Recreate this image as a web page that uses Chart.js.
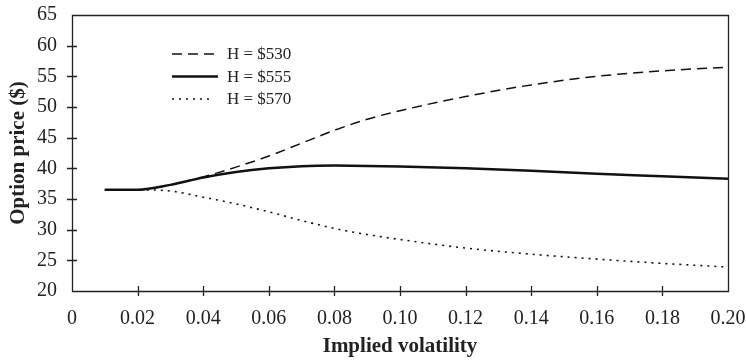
<!DOCTYPE html>
<html>
<head>
<meta charset="utf-8">
<script src="https://cdn.jsdelivr.net/npm/chart.js@4/dist/chart.umd.min.js"></script>
<style>
html,body{margin:0;padding:0;background:#fff;}
#wrap{width:746px;height:361px;position:relative;}
</style>
</head>
<body>
<div id="wrap"><canvas id="c" width="746" height="361"></canvas></div>
<script>
const volatility = [0.01, 0.02, 0.03, 0.04, 0.05, 0.06, 0.07, 0.08, 0.09, 0.10, 0.12, 0.14, 0.16, 0.18, 0.20];
const priceH530 = [36.5, 36.5, 37.3, 38.6, 40.2, 42.0, 44.1, 46.2, 48.0, 49.4, 51.7, 53.6, 55.0, 55.9, 56.5];
const priceH555 = [36.5, 36.5, 37.3, 38.5, 39.4, 40.0, 40.35, 40.45, 40.4, 40.3, 40.0, 39.6, 39.1, 38.7, 38.3];
const priceH570 = [36.5, 36.5, 36.3, 35.3, 34.2, 32.9, 31.5, 30.2, 29.2, 28.4, 27.0, 26.0, 25.2, 24.5, 23.9];
const seriesLabels = ['H = $530', 'H = $555', 'H = $570'];
const xTicks = [0, 0.02, 0.04, 0.06, 0.08, 0.10, 0.12, 0.14, 0.16, 0.18, 0.20];
const yTicks = [20, 25, 30, 35, 40, 45, 50, 55, 60, 65];

const FONT = '"Liberation Serif", "Times New Roman", serif';
const pts = arr => volatility.map((v, i) => ({x: v, y: arr[i]}));

const styles = [
  {borderWidth: 1.5, borderDash: [10, 6]},
  {borderWidth: 2.5, borderDash: []},
  {borderWidth: 1.6, borderDash: [2, 5]}
];
const datasets = [priceH530, priceH555, priceH570].map((arr, i) => ({
  label: seriesLabels[i],
  data: pts(arr),
  borderColor: '#111',
  backgroundColor: '#111',
  borderWidth: styles[i].borderWidth,
  borderDash: styles[i].borderDash,
  pointRadius: 0,
  cubicInterpolationMode: 'monotone',
  fill: false
}));

const frame = {
  id: 'frame',
  afterDraw(chart) {
    const {ctx, chartArea: a, scales: {x, y}} = chart;
    ctx.save();
    ctx.setLineDash([]);
    ctx.globalAlpha = 1;
    ctx.strokeStyle = '#222';
    ctx.lineWidth = 1.3;
    ctx.beginPath();
    ctx.rect(Math.round(a.left) + 0.5, Math.round(a.top) + 0.5, Math.round(a.right - a.left), Math.round(a.bottom - a.top));
    ctx.stroke();
    ctx.beginPath();
    xTicks.slice(1, -1).forEach(v => {
      const px = Math.round(x.getPixelForValue(v)) + 0.5;
      ctx.moveTo(px, a.bottom - 5); ctx.lineTo(px, a.bottom + 5);
    });
    yTicks.slice(1, -1).forEach(v => {
      const py = Math.round(y.getPixelForValue(v)) + 0.5;
      ctx.moveTo(a.left - 5, py); ctx.lineTo(a.left + 5, py);
    });
    ctx.stroke();
    // legend
    const lx0 = 172, lx1 = 214, tx = 227, rows = [54, 76.5, 99];
    chart.data.datasets.forEach((ds, i) => {
      ctx.beginPath();
      ctx.setLineDash(ds.borderDash);
      ctx.lineWidth = ds.borderWidth;
      ctx.strokeStyle = ds.borderColor;
      ctx.moveTo(lx0, rows[i]); ctx.lineTo(i === 1 ? lx1 + 4 : lx1, rows[i]);
      ctx.stroke();
      ctx.setLineDash([]);
      ctx.fillStyle = '#222';
      ctx.font = '17px ' + FONT;
      ctx.textBaseline = 'middle';
      ctx.textAlign = 'left';
      ctx.fillText(ds.label, tx, rows[i] + 1);
    });
    ctx.restore();
  }
};

new Chart(document.getElementById('c'), {
  type: 'line',
  data: {datasets},
  plugins: [frame],
  options: {
    responsive: false,
    animation: false,
    events: [],
    layout: {padding: {left: 0, right: 18, top: 15, bottom: 0}},
    plugins: {legend: {display: false}, tooltip: {enabled: false}},
    scales: {
      x: {
        type: 'linear', min: 0, max: 0.2,
        afterBuildTicks: s => { s.ticks = xTicks.map(v => ({value: v})); },
        afterFit: s => { s.height = 70; s.paddingLeft = 0; s.paddingRight = 0; },
        border: {display: false},
        grid: {display: false, drawTicks: false},
        ticks: {
          color: '#222', padding: 16,
          font: {family: FONT, size: 20},
          callback: v => v === 0 ? '0' : v.toFixed(2)
        },
        title: {display: true, text: 'Implied volatility', color: '#222',
          font: {family: FONT, size: 21, weight: 'bold'}, padding: {top: 0, bottom: 1.5}}
      },
      y: {
        type: 'linear', min: 20, max: 65,
        afterBuildTicks: s => { s.ticks = yTicks.map(v => ({value: v})); },
        afterFit: s => { s.width = 72; s.paddingTop = 0; s.paddingBottom = 0; },
        border: {display: false},
        grid: {display: false, drawTicks: false},
        ticks: {color: '#222', padding: 15, font: {family: FONT, size: 20}},
        title: {display: true, text: 'Option price ($)', color: '#222',
          font: {family: FONT, size: 21, weight: 'bold'}, padding: {top: 6, bottom: 0}}
      }
    }
  }
});
</script>
</body>
</html>
